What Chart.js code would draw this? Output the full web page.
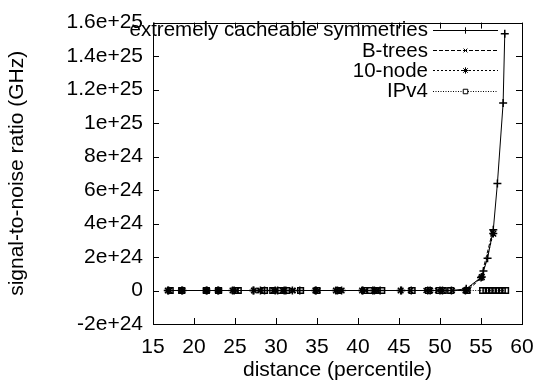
<!DOCTYPE html>
<html><head><meta charset="utf-8">
<script src="https://cdn.jsdelivr.net/npm/chart.js@4/dist/chart.umd.min.js"></script>
<style>html,body{margin:0;padding:0;background:#fff}canvas{display:block}</style>
</head><body>
<div style="width:547px;height:389px"><canvas id="c" width="547" height="389"></canvas></div>
<script>
const seriesNames = ["extremely cacheable symmetries", "B-trees", "10-node", "IPv4"];

const symX = [16.9, 18.5, 21.5, 23.0, 24.9, 27.2, 28.6, 30.2, 31.2, 32.9, 34.9, 37.5, 40.6, 41.8, 42.7, 45.3, 46.5, 48.5, 50.0, 51.4, 53.2, 55.0, 55.3, 55.8, 56.5, 57.0, 57.7, 57.9];
const symY = [0, 0, 0, 0, 0, 0, 0, 0, 0, 0, 0, 0, 0, 0, 0, 0, 0, 0, 0, 0, 0.1e24, 0.78e24, 1.16e24, 1.93e24, 3.63e24, 6.39e24, 11.2e24, 15.34e24];

const btreeX = [17.0, 18.4, 21.4, 23.1, 25.2, 28.0, 29.7, 30.8, 32.1, 35.1, 37.8, 40.9, 42.3, 46.4, 48.3, 49.7, 51.5, 53.4, 55.0, 56.4];
const btreeY = [0, 0, 0, 0, 0, 0, 0, 0, 0, 0, 0, 0, 0, 0, 0, 0, 0, 0, 0.75e24, 3.5e24];

const nodeX = [16.8, 18.6, 21.6, 22.9, 24.7, 27.3, 28.1, 29.9, 31.0, 32.0, 34.8, 37.3, 38.0, 40.5, 42.0, 45.2, 48.8, 50.3, 53.1, 55.1, 56.5];
const nodeY = [0, 0, 0, 0, 0, 0, 0, 0, 0, 0, 0, 0, 0, 0, 0, 0, 0, 0, 0, 0.8e24, 3.4e24];

const ipv4X = [17.1, 18.5, 21.5, 23.0, 25.0, 25.4, 28.6, 29.6, 30.5, 31.3, 33.0, 35.0, 37.6, 40.8, 41.5, 42.1, 42.9, 46.6, 48.6, 49.9, 50.4, 51.3, 53.3, 55.2, 55.6, 56.0, 56.4, 56.8, 57.2, 57.6, 58.0];
const ipv4Y = [0, 0, 0, 0, 0, 0, 0, 0, 0, 0, 0, 0, 0, 0, 0, 0, 0, 0, 0, 0, 0, 0, 0, 0, 0, 0, 0, 0, 0, 0, 0];

const xTickValues = [15, 20, 25, 30, 35, 40, 45, 50, 55, 60];
const xTickLabels = ["15", "20", "25", "30", "35", "40", "45", "50", "55", "60"];
const yTickValues = [-2e24, 0, 2e24, 4e24, 6e24, 8e24, 1e25, 1.2e25, 1.4e25, 1.6e25];
const yTickLabels = ["-2e+24", "0", "2e+24", "4e+24", "6e+24", "8e+24", "1e+25", "1.2e+25", "1.4e+25", "1.6e+25"];

const xTitle = "distance (percentile)";
const yTitle = "signal-to-noise ratio (GHz)";

const FONT = "'Liberation Sans', Arial, Helvetica, sans-serif";
const FS = 21;
const LEGEND_FS = 20.5;

function pts(xs, ys) { return xs.map((x, i) => ({x: x, y: ys[i]})); }

const styles = [
  {pointStyle: 'cross', dash: [], radius: 4},
  {pointStyle: 'crossRot', dash: [4, 2], radius: 3.5},
  {pointStyle: 'star', dash: [2, 2], radius: 4},
  {pointStyle: 'rect', dash: [1, 1.5], radius: 4}
];

const seriesData = [pts(symX, symY), pts(btreeX, btreeY), pts(nodeX, nodeY), pts(ipv4X, ipv4Y)];

const datasets = seriesData.map((d, i) => ({
  label: seriesNames[i],
  data: d,
  showLine: true,
  borderColor: '#000',
  borderWidth: 1,
  borderDash: styles[i].dash,
  pointStyle: styles[i].pointStyle,
  pointRadius: styles[i].radius,
  pointBorderColor: '#000',
  pointBackgroundColor: 'rgba(0,0,0,0)',
  pointBorderWidth: 1.5,
  tension: 0
}));

const frame = {
  id: 'frame',
  afterDatasetsDraw(chart) {
    const ctx = chart.ctx;
    const a = chart.chartArea;
    const xs = chart.scales.x, ys = chart.scales.y;
    ctx.save();
    ctx.strokeStyle = '#000';
    ctx.lineWidth = 1;
    ctx.setLineDash([]);
    ctx.beginPath();
    const L = 6;
    xTickValues.forEach(v => {
      const px = Math.round(xs.getPixelForValue(v)) + 0.5;
      ctx.moveTo(px, a.bottom); ctx.lineTo(px, a.bottom - L);
      ctx.moveTo(px, a.top); ctx.lineTo(px, a.top + L);
    });
    yTickValues.forEach(v => {
      const py = Math.round(ys.getPixelForValue(v)) + 0.5;
      ctx.moveTo(a.left, py); ctx.lineTo(a.left + L, py);
      ctx.moveTo(a.right, py); ctx.lineTo(a.right - L, py);
    });
    ctx.stroke();
    ctx.strokeRect(Math.round(a.left) + 0.5, Math.round(a.top) + 0.5, Math.round(a.right - a.left), Math.round(a.bottom - a.top));

    // legend (gnuplot style: text right-aligned, sample to the right)
    const textRight = 428, lineL = 433, lineR = 498, rowTop = 29.5, rowStep = 20.4;
    ctx.font = LEGEND_FS + 'px ' + FONT;
    ctx.textAlign = 'right';
    ctx.textBaseline = 'middle';
    chart.data.datasets.forEach((ds, i) => {
      const y = rowTop + i * rowStep;
      ctx.fillStyle = '#000';
      ctx.fillText(ds.label, textRight, y + 1);
      ctx.lineWidth = 1;
      ctx.setLineDash(ds.borderDash);
      ctx.beginPath();
      ctx.moveTo(lineL, Math.round(y) + 0.5);
      ctx.lineTo(lineR, Math.round(y) + 0.5);
      ctx.stroke();
      ctx.setLineDash([]);
      ctx.fillStyle = '#fff';
      Chart.helpers.drawPoint(ctx, {
        pointStyle: ds.pointStyle, radius: ds.pointRadius - 0.8, rotation: 0, borderWidth: 1
      }, (lineL + lineR) / 2, Math.round(y) + 0.5);
    });
    ctx.restore();
  }
};

new Chart(document.getElementById('c'), {
  type: 'scatter',
  data: {datasets: datasets},
  plugins: [frame],
  options: {
    responsive: false,
    animation: false,
    devicePixelRatio: 1,
    layout: {padding: {top: 13, right: 25, left: 0, bottom: 0}},
    plugins: {legend: {display: false}, tooltip: {enabled: false}},
    elements: {line: {fill: false}},
    scales: {
      x: {
        type: 'linear', min: 15, max: 60,
        afterBuildTicks: s => { s.ticks = xTickValues.map(v => ({value: v})); },
        afterFit: s => { s.height = 65; },
        grid: {display: false, drawTicks: false},
        border: {display: false},
        ticks: {
          color: '#000', padding: 11, maxRotation: 0, autoSkip: false,
          font: {family: FONT, size: FS},
          callback: (v, i) => xTickLabels[xTickValues.indexOf(v)]
        },
        title: {display: true, text: xTitle, color: '#000', font: {family: FONT, size: FS}, padding: {top: 0, bottom: 6}}
      },
      y: {
        type: 'linear', min: -2e24, max: 1.6e25,
        afterBuildTicks: s => { s.ticks = yTickValues.map(v => ({value: v})); },
        afterFit: s => { s.width = 153; },
        grid: {display: false, drawTicks: false},
        border: {display: false},
        ticks: {
          color: '#000', padding: 10, autoSkip: false,
          font: {family: FONT, size: FS},
          callback: (v, i) => yTickLabels[i]
        },
        title: {display: true, text: yTitle, color: '#000', font: {family: FONT, size: FS}, padding: {top: 5, bottom: 0}}
      }
    }
  }
});
</script>
</body></html>
